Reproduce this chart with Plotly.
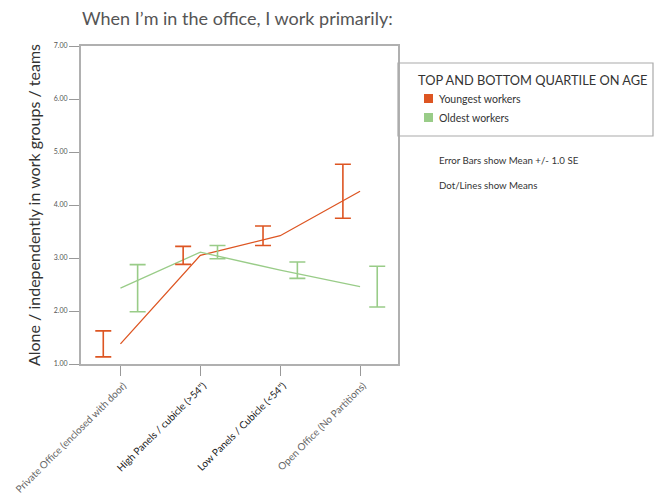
import plotly.graph_objects as go

# ---- data ----
categories = [
    "Private Office (enclosed with door)",
    "High Panels / cubicle (>54\")",
    "Low Panels / Cubicle (<54\")",
    "Open Office (No Partitions)",
]
cat_colors = ["#666666", "#222222", "#222222", "#666666"]
youngest_mean = [1.38, 3.05, 3.42, 4.26]
youngest_se = [0.245, 0.17, 0.185, 0.51]
oldest_mean = [2.43, 3.11, 2.77, 2.46]
oldest_se = [0.445, 0.125, 0.155, 0.385]
y_ticks = [1, 2, 3, 4, 5, 6, 7]
series_names = ["Youngest workers", "Oldest workers"]

ORANGE = "#DD5522"
GREEN = "#99CC88"
FONT = "Lato"

W, H = 666, 496
L, R, T, B = 81, 268, 46, 132
PW, PH = W - L - R, H - T - B


def px_x(px):
    return (px - L) / PW


def px_y(py):
    return (H - B - py) / PH


xs = list(range(len(categories)))
offset = 0.215

fig = go.Figure()

# mean lines
fig.add_trace(go.Scatter(x=xs, y=youngest_mean, mode="lines",
                         line=dict(color=ORANGE, width=1.3),
                         name=series_names[0], showlegend=False))
fig.add_trace(go.Scatter(x=xs, y=oldest_mean, mode="lines",
                         line=dict(color=GREEN, width=1.3),
                         name=series_names[1], showlegend=False))

# error bars (offset, SPSS style)
fig.add_trace(go.Scatter(x=[x - offset for x in xs], y=youngest_mean, mode="markers",
                         marker=dict(size=1, opacity=0, color=ORANGE),
                         error_y=dict(type="data", array=youngest_se, visible=True,
                                      color=ORANGE, thickness=1.6, width=8),
                         showlegend=False, hoverinfo="skip"))
fig.add_trace(go.Scatter(x=[x + offset for x in xs], y=oldest_mean, mode="markers",
                         marker=dict(size=1, opacity=0, color=GREEN),
                         error_y=dict(type="data", array=oldest_se, visible=True,
                                      color=GREEN, thickness=1.6, width=8),
                         showlegend=False, hoverinfo="skip"))

ticktext = [f'<span style="color:{c}">{t}</span>' for t, c in zip(categories, cat_colors)]

fig.update_xaxes(
    range=[-0.494, 3.475], tickmode="array", tickvals=xs, ticktext=ticktext,
    tickangle=-45, ticks="outside", ticklen=10, tickcolor="#999999", tickwidth=1,
    showline=True, linecolor="#B0B0B0", linewidth=2, mirror=True,
    showgrid=False, zeroline=False, automargin=False,
    ticklabeloverflow="allow", ticklabelshift=3, ticklabelstandoff=0,
    tickfont=dict(family=FONT, size=10, color="#666666"),
)
fig.update_yaxes(
    range=[1, 7], tickmode="array", tickvals=y_ticks,
    ticktext=[f"{v:.2f}" for v in y_ticks],
    ticks="outside", ticklen=10, tickcolor="#999999", tickwidth=1,
    showline=True, linecolor="#B0B0B0", linewidth=2, mirror=True,
    showgrid=False, zeroline=False, automargin=False,
    tickfont=dict(family=FONT, size=7, color="#555555"),
    title=dict(text="Alone / independently in work groups / teams",
               font=dict(family=FONT, size=16, color="#333333"), standoff=9),
)

# legend box drawn as shape + annotations
shapes = [
    dict(type="rect", xref="paper", yref="paper",
         x0=px_x(398), x1=px_x(653), y0=px_y(136), y1=px_y(63),
         line=dict(color="#AAAAAA", width=1.2), fillcolor="rgba(0,0,0,0)"),
    dict(type="rect", xref="paper", yref="paper",
         x0=px_x(424), x1=px_x(433), y0=px_y(103), y1=px_y(94),
         line=dict(width=0), fillcolor=ORANGE),
    dict(type="rect", xref="paper", yref="paper",
         x0=px_x(424), x1=px_x(433), y0=px_y(122), y1=px_y(113),
         line=dict(width=0), fillcolor=GREEN),
]

annotations = [
    dict(text="TOP AND BOTTOM QUARTILE ON AGE", x=px_x(416), y=px_y(80),
         font=dict(family=FONT, size=12.8, color="#333333")),
    dict(text=series_names[0], x=px_x(437), y=px_y(98.5),
         font=dict(family=FONT, size=10.5, color="#333333")),
    dict(text=series_names[1], x=px_x(437), y=px_y(117.5),
         font=dict(family=FONT, size=10.5, color="#333333")),
    dict(text="Error Bars show Mean +/- 1.0 SE", x=px_x(437), y=px_y(160),
         font=dict(family=FONT, size=9.7, color="#333333")),
    dict(text="Dot/Lines show Means", x=px_x(437), y=px_y(185),
         font=dict(family=FONT, size=9.7, color="#333333")),
]
for a in annotations:
    a.update(xref="paper", yref="paper", xanchor="left", yanchor="middle",
             showarrow=False)

fig.update_layout(
    width=W, height=H,
    margin=dict(l=L, r=R, t=T, b=B, autoexpand=False),
    paper_bgcolor="white", plot_bgcolor="white",
    title=dict(text="When I\u2019m in the office, I work primarily:",
               x=82 / W, xanchor="left", xref="container",
               y=1 - 19 / H, yanchor="middle", yref="container",
               font=dict(family=FONT, size=18, color="#555555")),
    shapes=shapes, annotations=annotations,
    showlegend=False,
)

fig.write_html("out.html")
